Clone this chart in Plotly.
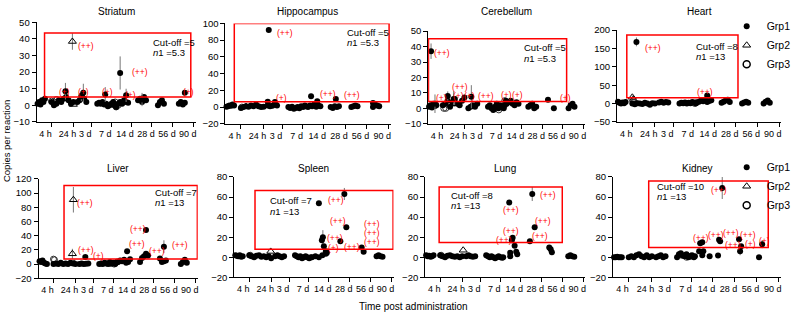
import numpy as np
import plotly.graph_objects as go

W, H = 796, 320
FONT = "Liberation Sans, Arial, sans-serif"

TIMES = ["4 h", "24 h", "3 d", "7 d", "14 d", "28 d", "56 d", "90 d"]
ORGANS = ["Striatum", "Hippocampus", "Cerebellum", "Heart", "Liver", "Spleen", "Lung", "Kidney"]
CUTOFF = [5, 5, 5, 8, 7, 7, 8, 10]
N1 = ["5.3", "5.3", "5.3", "13", "13", "13", "13", "13"]
Y_MIN = [-10, -20, -10, -50, -20, -20, -20, -20]
Y_MAX = [50, 100, 50, 200, 120, 80, 80, 80]
Y_STEP = [10, 20, 10, 50, 20, 20, 20, 20]

# cut-off box bounds (x in sample-slot units, y in copies)
BOX_X0 = [0.4, 0.43, 0.02, 0.48, 1.28, 1.04, 0.7, 1.7]
BOX_X1 = [7.75, 7.93, 7.05, 5.9, 7.98, 7.98, 6.85, 7.39]
BOX_Y0 = [5, 6.5, 4.4, 16, 7.2, 7.9, 14.6, 9.8]
BOX_Y1 = [43.6, 100, 45, 187, 110.5, 66.5, 70, 76]
CUT_X = [5.75, 5.8, 4.8, 3.75, 5.75, 1.7, 1.2, 2.0]
CUT_Y = [37.8, 89.6, 39.5, 155, 101, 57, 61.6, 70]
N1_Y = [32, 77, 32.5, 129, 87, 46, 52, 60.6]

# ---------------- Striatum ----------------
STR_BASE = [[1, 2, 0.5, 3, 2, 4], [2, 0, 1, 3, 2, 4, 5, 3, 1, 2], [2, 3, 6, 4, 2],
            [1, 1.5, 1, 2, 0.5, 1, -0.5, 0, 1, 2], [0, -1, 1, 2, 1, 3, 2, 1.5],
            [3, 4, 2, 5, 3], [0, 2, 3, 1], [1, 2, 0.5, 1.5]]
STR_HI_X = [1.45, 2.35, 2.25, 3.45, 4.2, 4.5, 5.3, 7.45]
STR_HI_Y = [8.5, 7.5, 5.5, 6.5, 19.5, 6, 3.5, 7.5]
STR_HI_E = [5, 5.5, 3, 4.5, 10, 4, 4, 1]
STR_G2_X = [1.8, 1.85, 0.9]
STR_G2_Y = [38.5, 0.5, 2]
STR_G2_E = [5, 0, 0]
STR_G3_X = [0.75, 1.0, 4.0, 4.1, 3.95]
STR_G3_Y = [2.5, 3.5, -1, 0, 2]
STR_LBL_X = [2.0, 1.05, 1.97, 3.2, 4.7, 4.35, 7.25]
STR_LBL_Y = [36, 8, 8, 8, 20, 6.3, 8]
STR_LBL_T = ["(++)", "(+)", "(+)", "(+)", "(++)", "(+)", "(+)"]

# ---------------- Hippocampus ----------------
HIP_BASE = [[0.5, 1, 2, 1.5, 3, 2], [-1, 0, 1, 0.5, 2, 1, 3, 1, 0, 0.5], [2, 1, 1.5, 3, 2],
            [0, -1, 0.5, -2, -1, 0, -1.5, 1, 0, 2], [1, 0, 2, 1, 3, 0.5, 2, 1],
            [0, -1, 1, 0, 1], [0, 1, 2, 1], [0, 3, 2, 1]]
HIP_HI_X = [2.1, 2.05, 2.4, 4.15, 4.45, 5.35, 7.15]
HIP_HI_Y = [92, 6.5, 6, 13, 7, 9.5, 5]
HIP_HI_E = [0, 0, 0, 3, 2, 0, 0]
HIP_G2_X = [1.0]
HIP_G2_Y = [0.5]
HIP_G2_E = [0]
HIP_G3_X = [0.8]
HIP_G3_Y = [0]
HIP_LBL_X = [2.4, 2.33, 4.5, 5.67]
HIP_LBL_Y = [89, 11, 15.8, 13.9]
HIP_LBL_T = ["(++)", "(+)", "(++)", "(++)"]

# ---------------- Cerebellum ----------------
CER_BASE = [[1, 2, 0.5, 3, 1.5, 2], [2, 3, 5, 1, 4, 6, 3, 2, 5, 7], [0, 1, 2, 1, 3],
            [1, 2, 0, -1, 1, 3, 0, 2, 1, 0], [2, 3, 4, 5, 3, 2, 4, 3],
            [1, 2, 3, 0, 1], [5.5, 0], [0, 2, 3, 1]]
CER_HI_X = [0.15, 0.35, 1.0, 1.3, 2.2, 3.95]
CER_HI_Y = [37, 3, 8, 6, 7.5, 5]
CER_HI_E = [5, 6, 3, 5, 7.5, 0]
CER_G2_X = [1.35]
CER_G2_Y = [3]
CER_G2_E = [2]
CER_G3_X = [0.8, 0.9, 3.4, 3.6, 3.9, 3.75]
CER_G3_Y = [0, 0, 0, -1, 5, 1]
CER_LBL_X = [0.2, 0.3, 1.1, 1.15, 1.75, 2.45, 3.6, 4.15, 6.6]
CER_LBL_Y = [36, 6.5, 13.5, 8.3, 8.3, 8.3, 8.7, 8.7, 6.5]
CER_LBL_T = ["(++)", "(+)", "(++)", "(+)", "(+)", "(++)", "(+)", "(+)", "(+)"]

# ---------------- Heart ----------------
HRT_BASE = [[5, 2, 0, 3, 1, 4], [0, -2, 1, 0, -1, 2, 0, -3, 1, 0], [3, 5, 2, 4, 3],
            [0, 2, 1, 3, 0, 2, 1, 4, 2, 1], [3, 5, 8, 6, 10, 4, 7, 9],
            [2, 5, 8, 10, 4], [0, 3, 5, 2], [0, 5, 8, 2]]
HRT_HI_X = [0.95, 4.4]
HRT_HI_Y = [168, 22]
HRT_HI_E = [12, 5]
HRT_G2_X = [0.75, 0.8]
HRT_G2_Y = [17, 11]
HRT_G2_E = [5, 0]
HRT_G3_X = [0.8, 3.8, 3.85]
HRT_G3_Y = [3, 0, 2]
HRT_LBL_X = [1.25, 3.8]
HRT_LBL_Y = [152, 30.8]
HRT_LBL_T = ["(++)", "(++)"]

# ---------------- Liver ----------------
LIV_BASE = [[4, 3, 5, 2, 1, 0], [0, 1, 0, 2, 0, 1, 0, 2, 1, 0], [0, 1, 0, 0.5, 1],
            [0, 1, 0, 2, 1, 0, 3, 1, 2, 0], [2, 3, 5, 4, 6, 2, 3, 7],
            [3, 8.7, 11, 14.5, 12], [8, 3, 4, 5], [0, 3, 6, 2]]
LIV_HI_X = [2.35, 4.45, 5.4, 6.3]
LIV_HI_Y = [10, 18, 48, 24.5]
LIV_HI_E = [0, 2, 2, 9]
LIV_G2_X = [1.75, 1.7, 1.8]
LIV_G2_Y = [90.6, 14.5, 1]
LIV_G2_E = [18, 7, 0]
LIV_G3_X = [0.75, 0.8, 3.6, 3.8, 3.95]
LIV_G3_Y = [7, 6, 1, 0, 3]
LIV_LBL_X = [1.85, 1.9, 2.65, 4.5, 4.45, 5.45, 6.6]
LIV_LBL_Y = [85.7, 20, 12, 49.4, 28, 19, 26.7]
LIV_LBL_T = ["(++)", "(++)", "(+)", "(++)", "(++)", "(++)", "(++)"]

# ---------------- Spleen ----------------
SPL_BASE = [[2, 1.5, 1, 2, 0.5, 1], [2, 1, 0, 1.5, 2, 0.5, 1, 0, 1, -1], [1, 2, 1, 0, 1],
            [2, 1, 0, 1, -1, 0, 1, 0, -1, 0], [0, 1, 0, 2, 3.5],
            [], [], [1, 2, 1, 0.5]]
SPL_HI_X = [4.25, 4.4, 4.45, 4.5, 4.6, 4.65, 5.33, 5.53, 5.63, 6.4, 6.5]
SPL_HI_Y = [53.7, 17, 20, 11, 6, 4.5, 16, 63, 30, 9.6, 5.5]
SPL_HI_E = [0, 0, 7, 0, 0, 0, 0, 6, 0, 0, 0]
SPL_G2_X = [1.83]
SPL_G2_Y = [5.8]
SPL_G2_E = [0]
SPL_G3_X = [0.8]
SPL_G3_Y = [2]
SPL_LBL_X = [4.6, 4.7, 4.55, 4.6, 5.43, 6.4, 6.4, 6.4]
SPL_LBL_Y = [57, 36.4, 19.4, 9.5, 10.5, 33.5, 24.5, 14.8]
SPL_LBL_T = ["(++)", "(++)", "(++)", "(+)", "(++)", "(++)", "(++)", "(++)"]

# ---------------- Lung ----------------
LNG_BASE = [[2, 1, 1.5, 0.5, 1, 2], [2, 1, 0, 1.5, 2, 1, 0.5, 1, 0, 1], [1, 2, 1, 0.5, 1],
            [2, 1, 0, 1, 0, -1, 0, 1, 0, -0.5], [0, 1, 3],
            [], [], [1, 2, 1, 0.5]]
LNG_HI_X = [4.2, 4.33, 4.37, 4.47, 4.55, 4.25, 5.23, 5.35, 5.47, 6.2, 6.27, 6.33]
LNG_HI_Y = [54.6, 17, 19.5, 11.5, 5.6, 4.5, 16, 63, 30, 9.6, 8, 5]
LNG_HI_E = [0, 0, 2, 0, 0, 0, 0, 7, 0, 0, 0, 0]
LNG_G2_X = [1.9]
LNG_G2_Y = [7]
LNG_G2_E = [0]
LNG_G3_X = [0.8]
LNG_G3_Y = [2]
LNG_LBL_X = [5.65, 3.8, 5.4, 3.8, 3.45, 5.25]
LNG_LBL_Y = [61.9, 46.6, 36, 25.8, 17.4, 21]
LNG_LBL_T = ["(++)", "(++)", "(++)", "(++)", "(++)", "(++)"]

# ---------------- Kidney ----------------
KID_BASE = [[0, 0, 0.5, 0, 0, 0], [0, 1, 0, 2, 3, 1, 0, 2, 0, 1], [0, 1, 2, 0, 1],
            [0, 3, 4, 2, 1, 3, 0, 1, 2, 0], [1, 2, 1],
            [], [], []]
KID_HI_X = [4.1, 4.15, 4.25, 4.3, 5.0, 5.05, 5.1, 5.2, 6.0, 6.05, 6.1, 6.95, 7.1]
KID_HI_Y = [6, 14, 15, 6, 1.8, 17.4, 16, 69, 18, 6, 11, 0, 13]
KID_HI_E = [0, 0, 0, 0, 0, 0, 0, 11, 0, 4, 0, 0, 4]
KID_G2_X = [3.4]
KID_G2_Y = [1]
KID_G2_E = [0]
KID_G3_X = [3.5, 3.7]
KID_G3_Y = [0, 1]
KID_LBL_X = [4.55, 3.7, 4.45, 5.15, 5.95, 5.25, 6.2, 6.85]
KID_LBL_Y = [67.4, 19.4, 22.5, 24, 22.6, 12, 13.2, 16]
KID_LBL_T = ["(++)", "(++)", "(++)", "(++)", "(++)", "(++)", "(+)", "(+)"]

BASE = [STR_BASE, HIP_BASE, CER_BASE, HRT_BASE, LIV_BASE, SPL_BASE, LNG_BASE, KID_BASE]
HI = [(STR_HI_X, STR_HI_Y, STR_HI_E), (HIP_HI_X, HIP_HI_Y, HIP_HI_E), (CER_HI_X, CER_HI_Y, CER_HI_E),
      (HRT_HI_X, HRT_HI_Y, HRT_HI_E), (LIV_HI_X, LIV_HI_Y, LIV_HI_E), (SPL_HI_X, SPL_HI_Y, SPL_HI_E),
      (LNG_HI_X, LNG_HI_Y, LNG_HI_E), (KID_HI_X, KID_HI_Y, KID_HI_E)]
G2 = [(STR_G2_X, STR_G2_Y, STR_G2_E), (HIP_G2_X, HIP_G2_Y, HIP_G2_E), (CER_G2_X, CER_G2_Y, CER_G2_E),
      (HRT_G2_X, HRT_G2_Y, HRT_G2_E), (LIV_G2_X, LIV_G2_Y, LIV_G2_E), (SPL_G2_X, SPL_G2_Y, SPL_G2_E),
      (LNG_G2_X, LNG_G2_Y, LNG_G2_E), (KID_G2_X, KID_G2_Y, KID_G2_E)]
G3 = [(STR_G3_X, STR_G3_Y), (HIP_G3_X, HIP_G3_Y), (CER_G3_X, CER_G3_Y), (HRT_G3_X, HRT_G3_Y),
      (LIV_G3_X, LIV_G3_Y), (SPL_G3_X, SPL_G3_Y), (LNG_G3_X, LNG_G3_Y), (KID_G3_X, KID_G3_Y)]
LBL = [(STR_LBL_X, STR_LBL_Y, STR_LBL_T), (HIP_LBL_X, HIP_LBL_Y, HIP_LBL_T), (CER_LBL_X, CER_LBL_Y, CER_LBL_T),
       (HRT_LBL_X, HRT_LBL_Y, HRT_LBL_T), (LIV_LBL_X, LIV_LBL_Y, LIV_LBL_T), (SPL_LBL_X, SPL_LBL_Y, SPL_LBL_T),
       (LNG_LBL_X, LNG_LBL_Y, LNG_LBL_T), (KID_LBL_X, KID_LBL_Y, KID_LBL_T)]

# ---------------- layout constants ----------------
PX_X = [(37, 198), (228, 395), (433, 592), (624, 790), (39, 200), (237, 398), (430, 592), (620, 790)]
PX_Y = [(17, 120), (18, 122), (26, 122), (25, 120), (179, 282), (177, 281), (177, 281), (177, 281)]
SPANS = [(0.05, 0.42), (0.75, 1.85), (2.05, 2.5), (3.05, 3.85), (3.9, 4.6), (5.1, 5.5), (6.1, 6.4), (7.15, 7.45)]
LABEL_X = [0.45, 1.55, 2.45, 3.45, 4.45, 5.5, 6.55, 7.6]
TICK_X = [v + 0.3 for v in LABEL_X]
ERR = dict(type="data", color="#777777", thickness=1, width=0)

fig = go.Figure()
layout = dict(width=W, height=H, margin=dict(l=0, r=0, t=0, b=0),
              paper_bgcolor="white", plot_bgcolor="white",
              font=dict(family=FONT, size=10, color="black"))
annotations = []
shapes = []

for i in range(8):
    k = "" if i == 0 else str(i + 1)
    xa, ya = "x" + k, "y" + k
    x0, x1 = PX_X[i]
    yt, yb = PX_Y[i]
    layout["xaxis" + k] = dict(domain=[x0 / W, x1 / W], range=[0, 8], anchor=ya,
                               showline=True, linecolor="black", linewidth=1, showgrid=False,
                               zeroline=False, tickmode="array", tickvals=LABEL_X, ticktext=TIMES,
                               tickangle=0, ticks="outside", ticklen=3, tickcolor="rgba(0,0,0,0)",
                               minor=dict(tickmode="array", tickvals=TICK_X, ticks="outside",
                                          ticklen=4, tickwidth=1, tickcolor="black"),
                               tickfont=dict(size=9, family=FONT))
    layout["yaxis" + k] = dict(domain=[1 - yb / H, 1 - yt / H], range=[Y_MIN[i], Y_MAX[i]], anchor=xa,
                               tick0=0, dtick=Y_STEP[i], showline=True, linecolor="black", linewidth=1,
                               showgrid=False, zeroline=False, ticks="outside", ticklen=4,
                               tickcolor="black", tickfont=dict(size=9.5, family=FONT))

    leg = "legend" if i == 3 else ("legend2" if i == 7 else None)
    show = leg is not None

    # baseline Grp1 points spread across each time group
    bx, by = [], []
    for g, vals in enumerate(BASE[i]):
        if len(vals) == 0:
            continue
        s0, s1 = SPANS[g]
        xs = np.linspace(s0, s1, len(vals)) if len(vals) > 1 else [0.5 * (s0 + s1)]
        bx.extend(list(xs))
        by.extend(vals)

    g2x, g2y, g2e = G2[i]
    g3x, g3y = G3[i]
    hx, hy, he = HI[i]

    common = dict(xaxis=xa, yaxis=ya, cliponaxis=False, mode="markers")
    if leg:
        common["legend"] = leg
    fig.add_trace(go.Scatter(x=g3x, y=g3y, name="Grp3", showlegend=False,
                             marker=dict(symbol="circle-open", size=6, color="#333333", line=dict(width=1)),
                             **common))
    fig.add_trace(go.Scatter(x=bx, y=by, name="Grp1", showlegend=show, legendrank=1,
                             marker=dict(symbol="circle", size=6, color="black"), **common))
    fig.add_trace(go.Scatter(x=hx, y=hy, name="Grp1", showlegend=False,
                             error_y=dict(array=he, **ERR),
                             marker=dict(symbol="circle", size=6, color="black"), **common))
    fig.add_trace(go.Scatter(x=g2x, y=g2y, name="Grp2", showlegend=show, legendrank=2,
                             error_y=dict(array=g2e, **ERR),
                             marker=dict(symbol="triangle-up-open", size=7, color="black", line=dict(width=1)),
                             **common))
    if show:
        fig.add_trace(go.Scatter(x=[None], y=[None], name="Grp3", showlegend=True, legendrank=3,
                                 marker=dict(symbol="circle-open", size=7, color="black", line=dict(width=1.5)),
                                 **common))

    # cut-off box
    shapes.append(dict(type="rect", xref=xa, yref=ya, x0=BOX_X0[i], x1=BOX_X1[i], y0=BOX_Y0[i], y1=BOX_Y1[i],
                       line=dict(color="#ff0000", width=1.5), fillcolor="rgba(0,0,0,0)"))
    annotations.append(dict(xref=xa, yref=ya, x=CUT_X[i], y=CUT_Y[i], text="Cut-off =%d" % CUTOFF[i],
                            showarrow=False, xanchor="left", yanchor="middle",
                            font=dict(size=9.5, family=FONT, color="black")))
    annotations.append(dict(xref=xa, yref=ya, x=CUT_X[i], y=N1_Y[i], text="<i>n</i>1 =" + N1[i],
                            showarrow=False, xanchor="left", yanchor="middle",
                            font=dict(size=9.5, family=FONT, color="black")))
    lx, ly, lt = LBL[i]
    for a, b, t in zip(lx, ly, lt):
        annotations.append(dict(xref=xa, yref=ya, x=a, y=b, text=t, showarrow=False,
                                xanchor="left", yanchor="middle",
                                font=dict(size=8.5, family=FONT, color="#ff0000")))
    # panel title
    annotations.append(dict(xref="paper", yref="paper", x=(x0 + x1) / 2 / W,
                            y=1 - (6 if i < 4 else 168) / H, text=ORGANS[i], showarrow=False,
                            xanchor="center", yanchor="middle", font=dict(size=10, family=FONT)))

annotations.append(dict(xref="paper", yref="paper", x=6 / W, y=1 - 140 / H, text="Copies per reaction",
                        textangle=-90, showarrow=False, xanchor="center", yanchor="middle",
                        font=dict(size=9.5, family=FONT)))
annotations.append(dict(xref="paper", yref="paper", x=418 / W, y=1 - 311 / H, text="Time post administration",
                        showarrow=False, xanchor="center", yanchor="middle",
                        font=dict(size=10, family=FONT)))

layout["annotations"] = annotations
layout["shapes"] = shapes
layout["legend"] = dict(x=735 / W, y=1 - 6 / H, xanchor="left", yanchor="top", bgcolor="rgba(0,0,0,0)",
                        font=dict(size=10.5, family=FONT), itemwidth=30, tracegroupgap=0)
layout["legend2"] = dict(x=735 / W, y=1 - 152 / H, xanchor="left", yanchor="top", bgcolor="rgba(0,0,0,0)",
                         font=dict(size=10.5, family=FONT), itemwidth=30, tracegroupgap=0)
fig.update_layout(**layout)
fig.write_html("out.html", config={"displayModeBar": False},
               post_script="document.body.style.margin='0';document.body.style.padding='0';")
